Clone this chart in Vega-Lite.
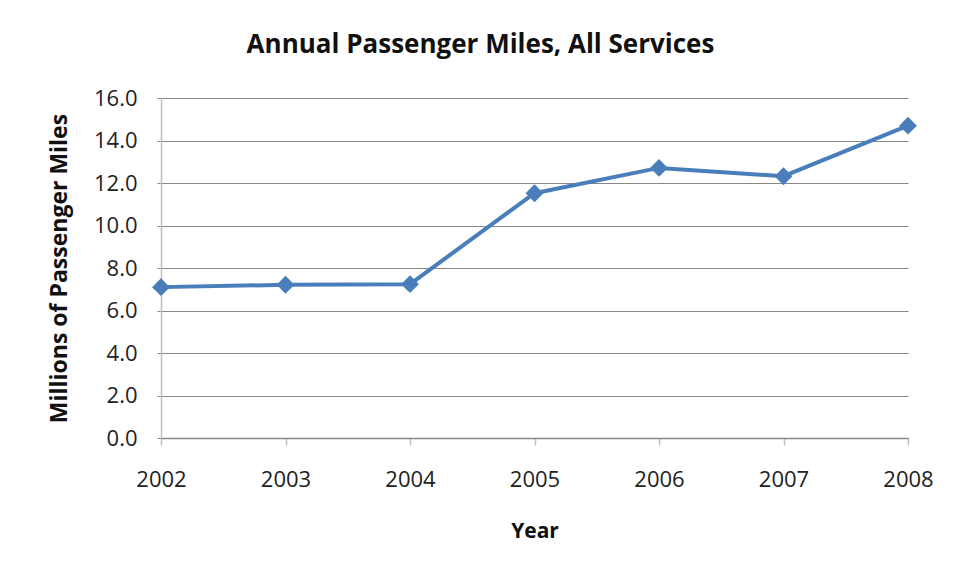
{
  "$schema": "https://vega.github.io/schema/vega-lite/v6.json",
  "autosize": {"type": "none"},
  "width": 747,
  "height": 340,
  "padding": {"left": 161, "top": 98, "right": 54, "bottom": 142},
  "background": "white",
  "title": {
    "text": "Annual Passenger Miles, All Services",
    "font": "Open Sans",
    "fontSize": 26,
    "fontWeight": "bold",
    "color": "#111111",
    "anchor": "middle",
    "frame": "group",
    "dx": -54,
    "baseline": "alphabetic",
    "offset": 8
  },
  "data": {
    "values": [
      {"Year": "2002", "Miles": 7.10},
      {"Year": "2003", "Miles": 7.21},
      {"Year": "2004", "Miles": 7.24},
      {"Year": "2005", "Miles": 11.52},
      {"Year": "2006", "Miles": 12.71},
      {"Year": "2007", "Miles": 12.32},
      {"Year": "2008", "Miles": 14.70}
    ]
  },
  "mark": {
    "type": "line",
    "color": "#4A7EBB",
    "strokeWidth": 4,
    "point": {"shape": "diamond", "size": 320, "filled": true, "color": "#4A7EBB", "opacity": 1}
  },
  "encoding": {
    "x": {
      "field": "Year",
      "type": "ordinal",
      "scale": {"type": "point", "padding": 0},
      "axis": {
        "title": "Year",
        "labelAngle": 0,
        "grid": false,
        "domainColor": "#868686",
        "domainWidth": 1.5,
        "tickColor": "#BFBFBF",
        "tickSize": 7,
        "tickWidth": 1.5,
        "labelPadding": 24,
        "titlePadding": 30
      }
    },
    "y": {
      "field": "Miles",
      "type": "quantitative",
      "scale": {"domain": [0, 16], "nice": false, "zero": true},
      "axis": {
        "title": "Millions of Passenger Miles",
        "titleFontSize": 23,
        "values": [0, 2, 4, 6, 8, 10, 12, 14, 16],
        "format": ".1f",
        "grid": true,
        "gridColor": "#878787",
        "gridWidth": 1.2,
        "domainColor": "#C0C0C0",
        "domainWidth": 1.5,
        "tickColor": "#878787",
        "tickSize": 4,
        "labelPadding": 20,
        "titlePadding": 22
      }
    }
  },
  "config": {
    "view": {"stroke": null},
    "axis": {
      "labelFont": "Open Sans",
      "labelFontSize": 22,
      "labelColor": "#222222",
      "titleFont": "Open Sans",
      "titleFontSize": 21,
      "titleFontWeight": "bold",
      "titleColor": "#111111"
    }
  }
}
